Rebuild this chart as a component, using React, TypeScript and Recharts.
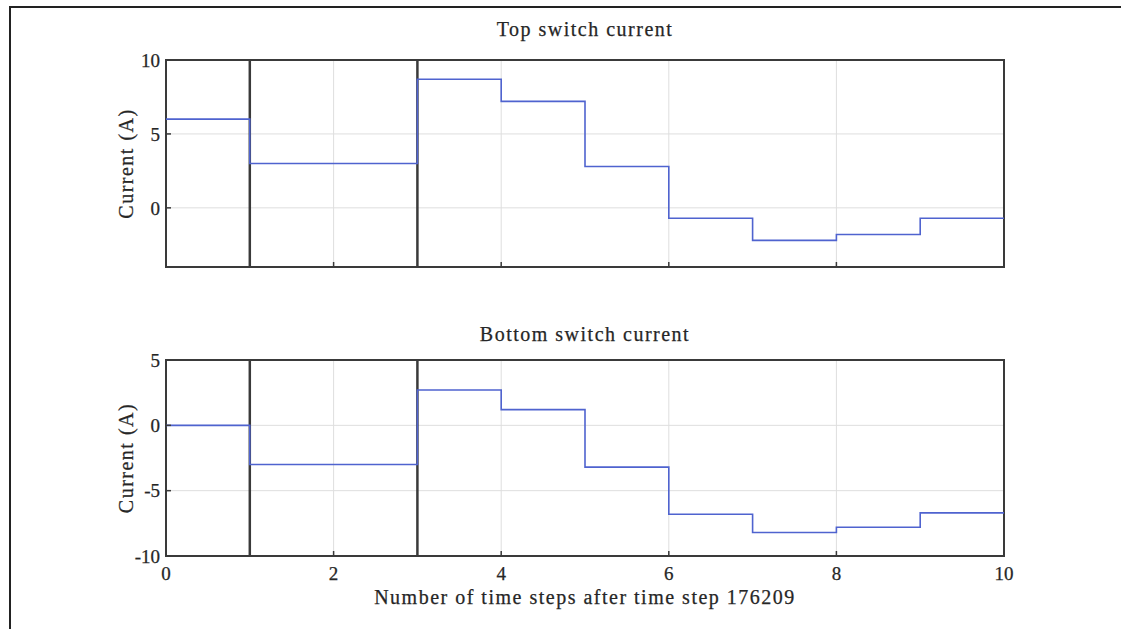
import { LineChart, Line, XAxis, YAxis, CartesianGrid, ReferenceLine, ReferenceArea } from 'recharts'

const steps = [0, 1, 2, 3, 4, 5, 6, 7, 8, 9, 10]
const topSwitch = [6.0, 3.0, 3.0, 8.7, 7.2, 2.8, -0.7, -2.2, -1.8, -0.7, -0.7]
const bottomSwitch = [0.0, -3.0, -3.0, 2.7, 1.2, -3.2, -6.8, -8.2, -7.8, -6.7, -6.7]
const xTicks = [0, 2, 4, 6, 8, 10]
const topTicks = [0, 5, 10]
const bottomTicks = [-10, -5, 0, 5]
const markerSteps = [1, 3]

const FONT = '"Liberation Serif", "Times New Roman", serif'
const TEXT = '#262626'
const LINE = '#4f63cf'
const FRAME = '#3a3a3a'
const labelStyle = { fontFamily: FONT, fontSize: 20, fill: TEXT, letterSpacing: 1.5, stroke: TEXT, strokeWidth: 0.25 }
const tickStyle = { fontFamily: FONT, fontSize: 19, fill: TEXT, stroke: TEXT, strokeWidth: 0.25 }

const topData = steps.map((s, i) => ({ step: s, current: topSwitch[i] }))
const bottomData = steps.map((s, i) => ({ step: s, current: bottomSwitch[i] }))

const NoLabel = () => <g />

function YLabel({ viewBox }: any) {
  const x = viewBox.x + 17
  const y = viewBox.y + viewBox.height / 2
  return (
    <text x={x} y={y} transform={`rotate(-90, ${x}, ${y})`} textAnchor="middle" style={labelStyle}>
      Current (A)
    </text>
  )
}

interface PanelProps {
  data: { step: number; current: number }[]
  domain: [number, number]
  yTicks: number[]
  height: number
  showX: boolean
}

function Panel({ data, domain, yTicks, height, showX }: PanelProps) {
  return (
    <LineChart width={1121} height={height} data={data}
      margin={{ top: 60, right: 117, left: 116, bottom: 23 }}>
      <CartesianGrid stroke="#dedede" strokeWidth={1} />
      <XAxis dataKey="step" type="number" domain={[0, 10]} ticks={xTicks}
        allowDataOverflow axisLine={false} tickSize={-5} tickMargin={16}
        tickLine={{ stroke: FRAME, strokeWidth: 1.5 }} height={showX ? 50 : 10}
        tick={showX ? tickStyle : NoLabel}
        label={showX ? {
          value: 'Number of time steps after time step 176209', position: 'insideBottom', offset: 2,
          style: labelStyle,
        } : undefined} />
      {/* mirrored axes only carry the inward tick marks on the top and right edges */}
      <XAxis xAxisId="top" orientation="top" dataKey="step" type="number" domain={[0, 10]}
        ticks={xTicks} allowDataOverflow axisLine={false} height={0} tickSize={-5}
        tickLine={{ stroke: FRAME, strokeWidth: 1.5 }} tick={NoLabel} />
      <YAxis type="number" domain={domain} ticks={yTicks} allowDataOverflow width={50}
        axisLine={false} tickSize={-5} tickMargin={11}
        tickLine={{ stroke: FRAME, strokeWidth: 1.5 }} tick={tickStyle}
        label={<YLabel />} />
      <YAxis yAxisId="right" orientation="right" type="number" domain={domain} ticks={yTicks}
        allowDataOverflow width={0} axisLine={false} tickSize={-5}
        tickLine={{ stroke: FRAME, strokeWidth: 1.5 }} tick={NoLabel} />
      <ReferenceArea x1={0} x2={10} y1={domain[0]} y2={domain[1]} fill="none"
        stroke={FRAME} strokeWidth={2} ifOverflow="visible" />
      {markerSteps.map((s) => (
        <ReferenceLine key={s} x={s} stroke={FRAME} strokeWidth={2.5} />
      ))}
      <Line type="stepAfter" dataKey="current" stroke={LINE} strokeWidth={1.6}
        dot={false} isAnimationActive={false} />
    </LineChart>
  )
}

const titleStyle: React.CSSProperties = {
  position: 'absolute', left: 166, width: 838, textAlign: 'center',
  fontFamily: FONT, fontSize: 20, color: TEXT, letterSpacing: 1.5,
  WebkitTextStroke: `0.25px ${TEXT}`,
}

export default function App() {
  return (
    <div style={{ position: 'fixed', left: 0, top: 0, width: 1121, height: 629, background: '#fff', overflow: 'hidden' }}>
      <style>{'html, body { overflow: hidden; }'}</style>
      <div style={{ position: 'absolute', left: 9, top: 6, width: 1112, height: 1.5, background: '#222' }} />
      <div style={{ position: 'absolute', left: 9, top: 6, width: 1.5, height: 623, background: '#222' }} />
      <div style={{ ...titleStyle, top: 18 }}>Top switch current</div>
      <div style={{ position: 'absolute', left: 0, top: 0 }}>
        <Panel data={topData} domain={[-4, 10]} yTicks={topTicks} height={300} showX={false} />
      </div>
      <div style={{ ...titleStyle, top: 323 }}>Bottom switch current</div>
      <div style={{ position: 'absolute', left: 0, top: 300 }}>
        <Panel data={bottomData} domain={[-10, 5]} yTicks={bottomTicks} height={329} showX />
      </div>
    </div>
  )
}
